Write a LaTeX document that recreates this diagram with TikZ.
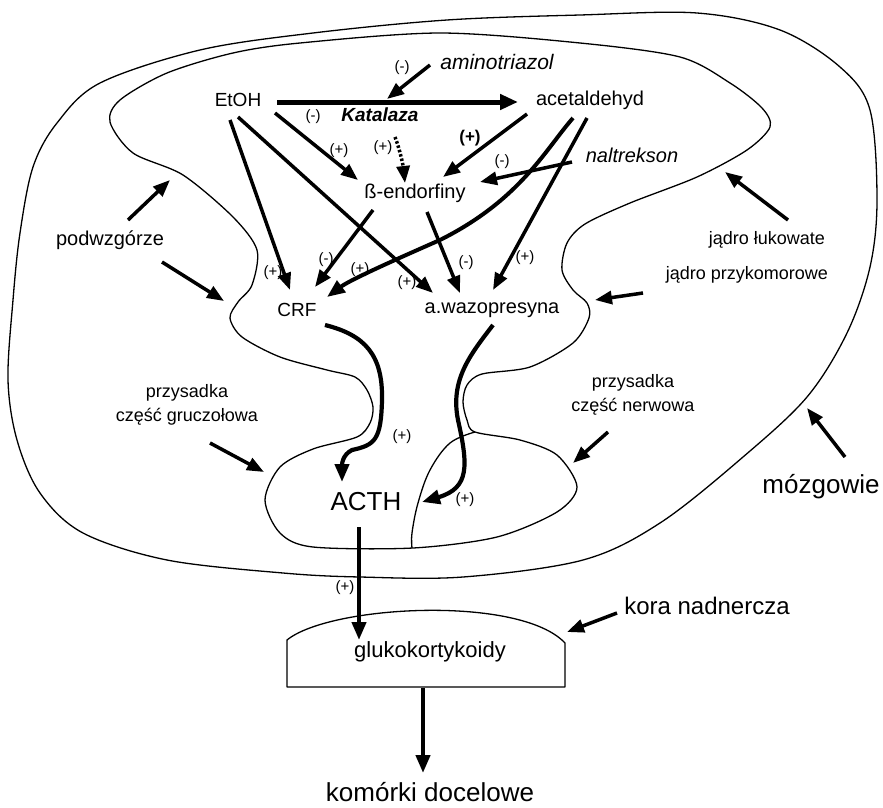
\documentclass[tikz,border=0pt]{standalone}
\usepackage{fontspec}
\setmainfont{Liberation Sans}
\usetikzlibrary{arrows.meta}
\tikzset{
  outline/.style={line width=1.3pt, line join=round},
  arr/.style={line width=3.5pt, -{Triangle[length=17pt,width=13pt]}},
  thickarr/.style={line width=4.2pt, -{Triangle[length=18pt,width=14pt]}},
  txt/.style={inner sep=0pt, font=\fontsize{19}{22}\selectfont},
  mid/.style={inner sep=0pt, font=\fontsize{18}{22}\selectfont, align=center},
  big/.style={inner sep=0pt, font=\fontsize{25}{30}\selectfont},
  sgn/.style={inner sep=0pt, font=\fontsize{15}{17}\selectfont},
}
\begin{document}
\begin{tikzpicture}[x=1pt,y=-1pt]
\useasboundingbox (0,0) rectangle (883,808);

% outer brain outline
\draw[outline] plot[smooth cycle, tension=0.55] coordinates {
 (580,15) (697,13) (780,30) (840,67) (870,110) (877,200) (870,267) (847,333)
 (807,397) (743,457) (660,523) (583,560) (463,577) (360,577) (283,573)
 (167,560) (83,533) (40,493) (17,440) (8,380) (13,300) (20,233) (33,167)
 (57,123) (100,83) (200,50) (313,33) (447,20)};

% inner hypothalamus / pituitary outline
\draw[outline] plot[smooth cycle, tension=0.5] coordinates {
 (440,33) (580,43) (680,57) (730,83) (762,108) (770,127) (747,150) (697,177)
 (630,203) (585,224) (567,243) (562,270) (573,290) (587,303) (589,318)
 (573,343) (530,367) (482,374) (467,385) (463,402) (467,420) (475,432)
 (520,440) (557,455) (577,487) (557,512) (497,537) (413,548) (313,547)
 (280,533) (265,500) (280,467) (313,449) (357,437) (370,423) (373,407)
 (367,390) (355,377) (327,370) (280,357) (242,337) (230,318) (238,302)
 (252,285) (257,250) (233,217) (183,175) (133,153) (110,122) (120,100)
 (167,73) (233,53) (300,43)};

% divider between lobes of pituitary
\draw[outline] plot[smooth, tension=0.6] coordinates {
 (475,432) (450,443) (430,470) (418,503) (412,533) (412,548)};

% adrenal cortex
\draw[outline] (287,687) -- (287,640)
  .. controls (330,605) and (520,595) .. (565,643) -- (565,687) -- cycle;

% ---------- text nodes ----------
\node[txt] (etoh) at (238,100) {EtOH};
\node[txt, font=\fontsize{20}{22}\selectfont] (acet) at (590,100) {acetaldehyd};
\node[txt, font=\fontsize{21}{23}\selectfont\itshape] (amino) at (497,62) {aminotriazol};
\node[txt, font=\fontsize{19}{22}\selectfont\bfseries\itshape] (kat) at (380,115) {Katalaza};
\node[txt, font=\fontsize{20}{22}\selectfont] (endo) at (415,193) {ß-endorfiny};
\node[txt, font=\fontsize{20}{22}\selectfont\itshape] (nal) at (632,155) {naltrekson};
\node[txt] (crf) at (297,310) {CRF};
\node[txt, font=\fontsize{20}{22}\selectfont] (wazo) at (492,310) {a.wazopresyna};
\node[big, font=\fontsize{26}{30}\selectfont] (acth) at (366,502) {ACTH};
\node[txt, font=\fontsize{22}{24}\selectfont] (gluko) at (430,652) {glukokortykoidy};
\node[big, font=\fontsize{26}{30}\selectfont] (kom) at (430,792) {komórki docelowe};
\node[big, font=\fontsize{24}{28}\selectfont] (kora) at (707,606) {kora nadnercza};
\node[big, font=\fontsize{26}{30}\selectfont] (mozg) at (821,487) {mózgowie};
\node[txt, font=\fontsize{20}{22}\selectfont] (podw) at (110,240) {podwzgórze};
\node[mid] (luk) at (767,240) {jądro łukowate};
\node[mid] (przyk) at (747,275) {jądro przykomorowe};
\node[mid, font=\fontsize{18}{24}\selectfont] (grucz) at (187,405) {przysadka\\część gruczołowa};
\node[mid, font=\fontsize{18}{24}\selectfont] (nerw) at (633,395) {przysadka\\część nerwowa};

% signs
\node[sgn] (s1) at (402,68) {(-)};
\node[sgn] (s2) at (313,117) {(-)};
\node[sgn] (s3) at (339,151) {(+)};
\node[sgn] (s4) at (383,148) {(+)};
\node[sgn, font=\fontsize{17}{19}\selectfont\bfseries] (s5) at (470,138) {(+)};
\node[sgn] (s6) at (502,162) {(-)};
\node[sgn] (s7) at (273,273) {(+)};
\node[sgn] (s8) at (326,260) {(-)};
\node[sgn] (s9) at (360,270) {(+)};
\node[sgn] (s10) at (407,283) {(+)};
\node[sgn] (s11) at (466,263) {(-)};
\node[sgn] (s12) at (525,258) {(+)};
\node[sgn] (s13) at (402,437) {(+)};
\node[sgn] (s14) at (465,500) {(+)};
\node[sgn] (s15) at (345,588) {(+)};

% ---------- connector end points ----------
\coordinate (katS) at (277,102);  \coordinate (katE) at (518,102);
\coordinate (amS) at (430,65);    \coordinate (amE) at (387,99);
\coordinate (e1S) at (275,113);   \coordinate (e1E) at (358,180);
\coordinate (dS) at (395,137);    \coordinate (dE) at (405,183);
\coordinate (a1S) at (527,114);   \coordinate (a1E) at (443,177);
\coordinate (nS) at (572,162);    \coordinate (nE) at (480,182);
\coordinate (e2S) at (230,120);   \coordinate (e2E) at (290,290);
\coordinate (e3S) at (238,117);   \coordinate (e3E) at (433,293);
\coordinate (b1S) at (373,210);   \coordinate (b1E) at (315,287);
\coordinate (b2S) at (427,212);   \coordinate (b2E) at (460,293);
\coordinate (a2S) at (573,118);   \coordinate (a2E) at (327,297);
\coordinate (a3S) at (587,118);   \coordinate (a3E) at (493,290);
\coordinate (cS) at (325,325);    \coordinate (cE) at (342,482);
\coordinate (wS) at (493,325);    \coordinate (wE) at (422,502);
\coordinate (acS) at (359,527);   \coordinate (acE) at (359,640);
\coordinate (gS) at (423,688);    \coordinate (gE) at (423,773);
\coordinate (p1S) at (128,220);   \coordinate (p1E) at (170,180);
\coordinate (p2S) at (162,262);   \coordinate (p2E) at (224,301);
\coordinate (lS) at (788,220);    \coordinate (lE) at (725,172);
\coordinate (pkS) at (643,293);   \coordinate (pkE) at (595,300);
\coordinate (grS) at (210,443);   \coordinate (grE) at (264,472);
\coordinate (nwS) at (608,432);   \coordinate (nwE) at (573,463);
\coordinate (mS) at (845,457);    \coordinate (mE) at (807,408);
\coordinate (kS) at (617,613);    \coordinate (kE) at (567,632);

% ---------- connectors ----------
\draw[line width=5pt, -{Triangle[length=18pt,width=15pt]}] (katS) -- (katE);
\draw[arr] (amS) -- (amE);
\draw[arr] (e1S) -- (e1E);
\draw[line width=3.5pt, dash pattern=on 2.5pt off 2pt, -{Triangle[length=17pt,width=13pt]}]
  (dS) .. controls (400,150) and (403,165) .. (dE);
\draw[arr] (a1S) -- (a1E);
\draw[arr] (nS) -- (nE);
\draw[arr] (e2S) -- (e2E);
\draw[arr] (e3S) -- (e3E);
\draw[arr] (b1S) -- (b1E);
\draw[arr] (b2S) -- (b2E);
\draw[line width=4pt, -{Triangle[length=18pt,width=14pt]}]
  (a2S) .. controls (545,150) and (520,200) .. (440,240)
  .. controls (390,262) and (350,280) .. (a2E);
\draw[arr] (a3S) -- (a3E);
\draw[thickarr] (cS) .. controls (365,335) and (383,355) .. (382,400)
  .. controls (381,440) and (375,445) .. (352,450)
  .. controls (342,455) and (342,465) .. (cE);
\draw[thickarr] (wS) .. controls (470,355) and (450,380) .. (458,420)
  .. controls (468,465) and (470,488) .. (wE);
\draw[thickarr] (acS) -- (acE);
\draw[thickarr] (gS) -- (gE);
\draw[arr] (p1S) -- (p1E);
\draw[arr] (p2S) -- (p2E);
\draw[arr] (lS) -- (lE);
\draw[arr] (pkS) -- (pkE);
\draw[arr] (grS) -- (grE);
\draw[arr] (nwS) -- (nwE);
\draw[arr] (mS) -- (mE);
\draw[arr] (kS) -- (kE);
\end{tikzpicture}
\end{document}
